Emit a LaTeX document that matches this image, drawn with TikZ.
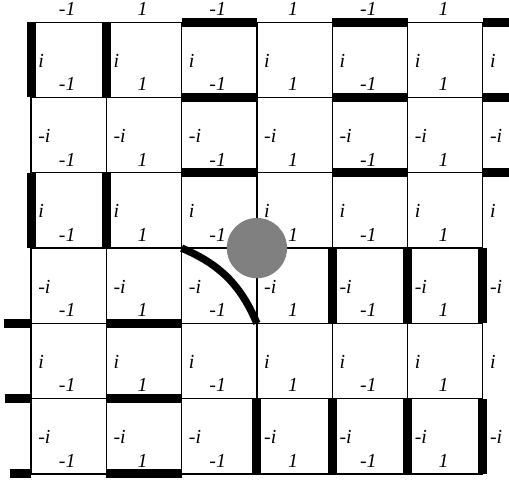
\documentclass[tikz,border=0pt]{standalone}
\usepackage{fontspec}
\setmainfont{Liberation Serif}

\begin{document}
\begin{tikzpicture}[x=1cm,y=1cm,
  lab/.style={inner sep=0pt,font=\fontsize{7.5}{9}\selectfont\itshape},
  bond/.style={line width=3.4pt}]
\useasboundingbox (-0.412,-0.12) rectangle (6.348,6.295);
\draw[line width=0.45pt] (0,0) grid (6,6);
% phases on the plaquettes
\foreach \j in {0,...,6}{\foreach \r in {0,...,5}{
  \ifodd\r \def\lbl{i}\else\def\lbl{-i}\fi
  \node[lab,anchor=base west] (s\j\r) at (\j+0.09,\r+0.4) {\lbl};
}}
\foreach \j in {0,...,5}{\foreach \r in {0,...,6}{
  \ifodd\j \def\lbl{1}\else\def\lbl{-1}\fi
  \node[lab,anchor=base] (n\j\r) at (\j+0.48,\r+0.09) {\lbl};
}}
% thick links
\foreach \a/\b in {0/5,1/5,0/3,1/3,4/2,5/2,6/2,3/0,4/0,5/0,6/0}
  \draw[bond] (\a,\b) -- ++(0,1);
\foreach \a/\b in {2/6,4/6,2/5,4/5,2/4,4/4,1/2,1/1,1/0}
  \draw[bond] (\a,\b) -- ++(1,0);
\foreach \b in {4,5,6} \draw[bond] (6,\b) -- (6.348,\b);
\draw[bond] (-0.36,2) -- (0,2);
\draw[bond] (-0.35,1) -- (0,1);
\draw[bond] (-0.28,0) -- (0,0);
\draw[line width=2.8pt] (2,3) to[bend left=22] (3,2);
\fill[gray] (3,3) circle (0.4);
\end{tikzpicture}
\end{document}
